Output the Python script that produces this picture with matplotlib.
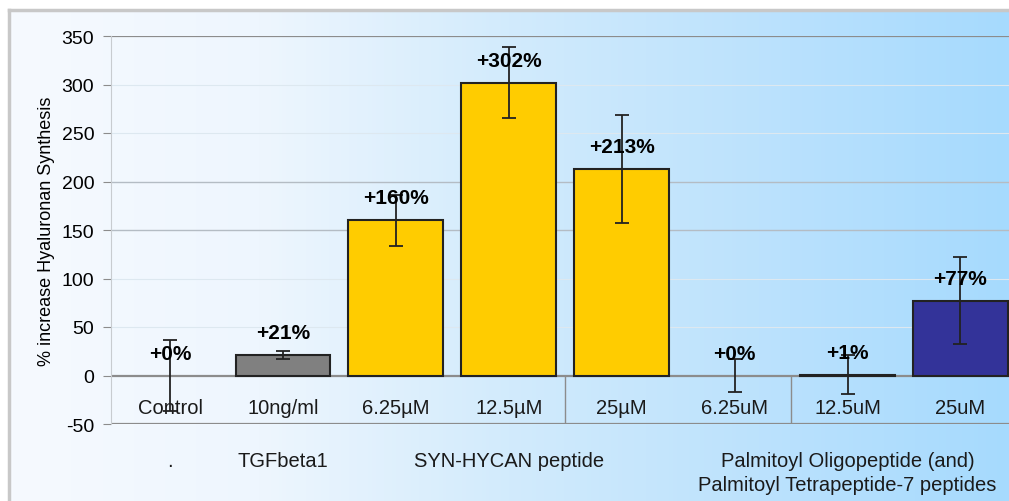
import numpy as np
import matplotlib
matplotlib.use("Agg")
import matplotlib.pyplot as plt
from matplotlib.colors import LinearSegmentedColormap

plt.rcParams['font.family'] = ['Liberation Sans', 'DejaVu Sans']
plt.rcParams['axes.unicode_minus'] = False

# ---------- data ----------
categories = ["Control", "10ng/ml", "6.25µM", "12.5µM", "25µM", "6.25uM", "12.5uM", "25uM"]
values = [0, 21, 160, 302, 213, 0, 1, 77]
errors = [37, 4, 26, 37, 56, 17, 20, 45]
labels = ["+0%", "+21%", "+160%", "+302%", "+213%", "+0%", "+1%", "+77%"]
bar_colors = ["#808080", "#808080", "#FFCC00", "#FFCC00", "#FFCC00", "#333399", "#333399", "#333399"]
groups = [".", "TGFbeta1", "SYN-HYCAN peptide", "Palmitoyl Oligopeptide (and)\nPalmitoyl Tetrapeptide-7 peptides"]
group_pos = [0, 1, 3, 6]
yticks = [-50, 0, 50, 100, 150, 200, 250, 300, 350]

fig = plt.figure(figsize=(10.09, 5.02), dpi=100)

# background gradient panel with grey frame
bg = fig.add_axes([9 / 1009, 0, 1 - 9 / 1009, 1 - 11 / 502])
cmap = LinearSegmentedColormap.from_list(
    "bg", [(0, "#f6faff"), (0.25, "#eef6fe"), (0.5, "#d2ebfc"), (0.75, "#bce2fd"), (1, "#a6dafe")])
bg.imshow(np.linspace(0, 1, 256)[None, :], aspect="auto", cmap=cmap, extent=[0, 1, 0, 1])
bg.set_xlim(0, 1)
bg.set_ylim(0, 1)
bg.set_xticks([])
bg.set_yticks([])
for side in ["right", "bottom"]:
    bg.spines[side].set_visible(False)
for side in ["left", "top"]:
    bg.spines[side].set_color("#c8c8c8")
    bg.spines[side].set_linewidth(2.5)

ax = fig.add_axes([111 / 1009, 77 / 502, 1 - 111 / 1009, 388 / 502])
ax.patch.set_visible(False)
x = np.arange(len(categories))
ax.set_xlim(-0.523, 7.43)
ax.set_ylim(-50, 350)

# grid lines
for t in yticks:
    if t in (350, 0, -50):
        ax.axhline(t, color="#8c8c8c", lw=1.6, zorder=1)
    elif t in (200, 150):
        ax.axhline(t, color="#b4bcc4", lw=1.0, zorder=1)
    else:
        ax.axhline(t, color="#dde8f0", lw=0.8, zorder=1)

# bars with value 0 show no outline
edge_w = [1.5 if v != 0 else 0 for v in values]
ax.bar(x, values, width=0.84, color=bar_colors, edgecolor="#222222", linewidth=edge_w, zorder=3)
ax.errorbar(x, values, yerr=errors, fmt="none", ecolor="#222222", elinewidth=1.3,
            capsize=5, capthick=1.3, zorder=4)

for xi, v, lab in zip(x, values, labels):
    ax.text(xi, v + 23, lab, ha="center", va="center", fontsize=15, fontweight="bold", zorder=5)

# category labels inside the axis band
for xi, c in zip(x, categories):
    ax.text(xi, -33, c, ha="center", va="center", fontsize=14.5, color="#1a1a1a")

# separators between groups
for sx in (3.5, 5.5):
    ax.plot([sx, sx], [0, -50], color="#8c8c8c", lw=1.0, zorder=2)

# group labels under the axes
for gx, g in zip(group_pos, groups):
    ax.text(gx, -78, g, ha="center", va="top", fontsize=14.5, color="#1a1a1a",
            linespacing=1.3, clip_on=False)

for side in ["top", "right", "bottom"]:
    ax.spines[side].set_visible(False)
ax.spines["left"].set_color("#c8ccd0")
ax.set_xticks([])
ax.set_yticks(yticks)
ax.tick_params(axis="y", length=6, color="#8c8c8c", labelsize=14, pad=6)
ax.set_ylabel("% increase Hyaluronan Synthesis", fontsize=13, labelpad=5)

fig.savefig("out.png", dpi=100)
